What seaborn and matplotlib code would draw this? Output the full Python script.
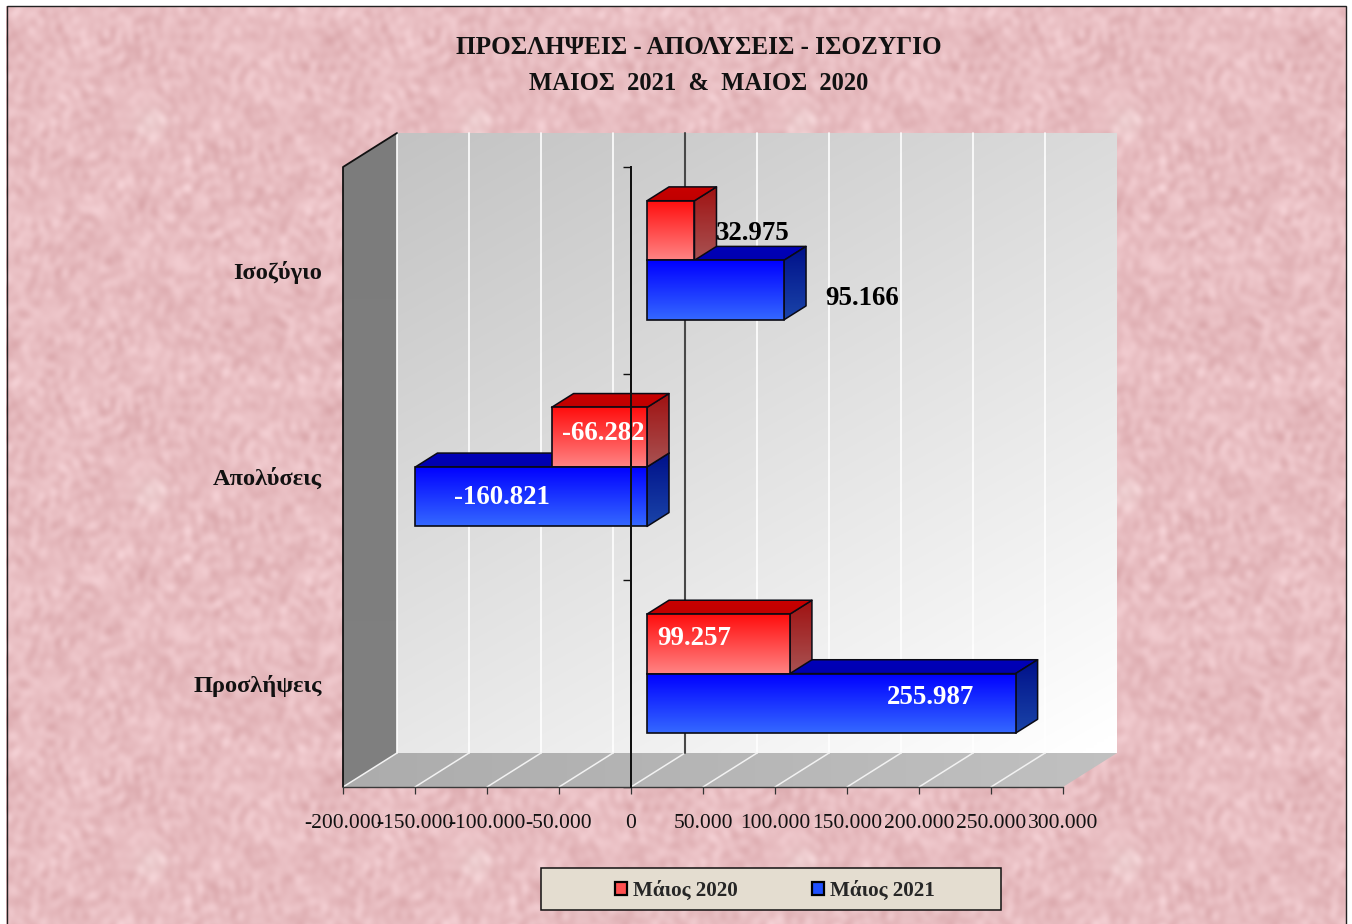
import numpy as np
import pandas as pd
import matplotlib
matplotlib.use("Agg")
import matplotlib.pyplot as plt
import seaborn as sns
from matplotlib.patches import Polygon, Rectangle, Patch
from matplotlib.transforms import IdentityTransform, Affine2D

# ---------- data ----------
categories = ["Ισοζύγιο", "Απολύσεις", "Προσλήψεις"]
series_names = ["Μάιος 2020", "Μάιος 2021"]
values_2020 = [32975, -66282, 99257]
values_2021 = [95166, -160821, 255987]
x_ticks = [-200000, -150000, -100000, -50000, 0, 50000, 100000, 150000, 200000, 250000, 300000]
title_lines = ["ΠΡΟΣΛΗΨΕΙΣ - ΑΠΟΛΥΣΕΙΣ - ΙΣΟΖΥΓΙΟ", "ΜΑΙΟΣ  2021  &  ΜΑΙΟΣ  2020"]

# ---------- label styling (pixel offset of label centre from bar end / bar middle) ----------
label_style = {
    (0, 0): (58, -3, "black"), (0, 1): (78, -8, "black"),
    (1, 0): (52, 4, "white"), (1, 1): (87, -1, "white"),
    (2, 0): (-96, 5, "white"), (2, 1): (-85, 6, "white"),
}

W, H = 1352, 924
DEPTH = np.array([54.0, 34.0])
BAR_D0, BAR_D1 = 16 / 54, 38 / 54

sns.set_style("white")
plt.rcParams["font.family"] = ["Liberation Serif", "DejaVu Serif"]

fig = plt.figure(figsize=(W / 100, H / 100), dpi=100, facecolor="white")


# ---------- paper texture background (deterministic tile of sinusoids) ----------
def paper_texture():
    tw, th = 325, 370
    yy, xx = np.mgrid[0:th, 0:tw]
    field = np.zeros((th, tw))
    for a in range(-30, 31):
        for b in range(0, 31):
            r = np.hypot(a, b)
            if r < 2 or r > 32:
                continue
            h = np.sin(a * 12.9898 + b * 78.233) * 43758.5453
            ph = 2 * np.pi * (h - np.floor(h))
            field += np.sin(2 * np.pi * (a * xx / tw + b * yy / th) + ph) / (1 + r / 5)
    field /= field.std()
    blob = np.exp(-(((xx - 150) / 16.0) ** 2 + ((yy - 122) / 16.0) ** 2))
    base = np.array([232.0, 189.0, 193.0])
    rgb = base[None, None, :] + field[..., None] * np.array([3.5, 5.5, 5.5])
    rgb = rgb + blob[..., None] * np.array([4.0, 14.0, 12.0])
    rgb = np.tile(rgb, (H // th + 1, W // tw + 1, 1))[:H, :W]
    rgb = np.clip(rgb, 0, 255) / 255
    rgb[:6, :] = 1
    rgb[:, :6] = 1
    rgb[:, 1346:] = 1
    return rgb


fig.figimage(paper_texture(), 0, 0, origin="upper", zorder=-2)
fig.add_artist(Rectangle((6.5 / W, -0.01), (1339) / W, 1.01 - 6.5 / H, transform=fig.transFigure,
                         fill=False, edgecolor="#222222", linewidth=1.0, zorder=-1))

# ---------- main axes: front plane of the 3-D box ----------
ax = fig.add_axes([343 / W, 1 - 787 / H, 720 / W, 620 / H])
ax.set_zorder(2)
ax.patch.set_visible(False)

df = pd.DataFrame({
    "category": categories * 2,
    "series": [series_names[0]] * 3 + [series_names[1]] * 3,
    "value": values_2020 + values_2021,
})
sns.barplot(data=df, y="category", x="value", hue="series", order=categories, hue_order=series_names,
            palette=["#ff5050", "#1f50ff"], width=0.576, gap=0, saturation=1, orient="h",
            errorbar=None, legend=False, ax=ax)
ax.set(xlabel="", ylabel="")
ax.set_xlim(x_ticks[0], x_ticks[-1])
ax.set_ylim(2.5, -0.5)
ax.autoscale(False)

IDENT = IdentityTransform()


def proj(x, y, d=0.0):
    return ax.transData.transform((x, y)) + d * DEPTH


def grad_image(verts, img, zorder):
    v = np.array(verts)
    x0, x1 = v[:, 0].min(), v[:, 0].max()
    y0, y1 = v[:, 1].min(), v[:, 1].max()
    im = ax.imshow(img, extent=(x0, x1, y0, y1), origin="upper", aspect="auto",
                   interpolation="bilinear", zorder=zorder, transform=IDENT)
    im.set_clip_box(fig.bbox)
    im.set_clip_path(Polygon(v, closed=True, transform=IDENT))
    return im


def vgrad(top, bottom, n=64):
    t = np.linspace(0, 1, n)[:, None, None]
    a, b = np.array(matplotlib.colors.to_rgb(top)), np.array(matplotlib.colors.to_rgb(bottom))
    return a[None, None, :] * (1 - t) + b[None, None, :] * t


def face(verts, top, bottom, zorder, lw=1.1, edge="#0a0a14"):
    grad_image(verts, vgrad(top, bottom), zorder)
    ax.add_patch(Polygon(verts, closed=True, fill=False, edgecolor=edge, linewidth=lw,
                         transform=IDENT, clip_on=False, zorder=zorder + 0.01, joinstyle="round"))


# ---------- walls and floor ----------
xa, xb = x_ticks[0], x_ticks[-1]
ya, yb = -0.5, 2.5
# back wall
u, v = np.meshgrid(np.linspace(0, 1, 200), np.linspace(0, 1, 200))
shade = np.clip(0.765 + 0.235 * (0.4 * u + 0.62 * v), 0, 1)
wall_img = np.dstack([shade] * 3)
wall = [proj(xa, ya, 1), proj(xb, ya, 1), proj(xb, yb, 1), proj(xa, yb, 1)]
grad_image(wall, wall_img, 0.5)
# left wall
left = [proj(xa, ya, 0), proj(xa, ya, 1), proj(xa, yb, 1), proj(xa, yb, 0)]
grad_image(left, vgrad("#7c7c7c", "#808080"), 0.6)
ax.plot(*zip(left[3], left[0], left[1]), color="#111111", lw=1.3, transform=IDENT, clip_on=False, zorder=2.4)
# floor
floor = [proj(xa, yb, 0), proj(xa, yb, 1), proj(xb, yb, 1), proj(xb, yb, 0)]
fu = np.linspace(0, 1, 128)[None, :]
floor_img = np.dstack([0.675 + 0.08 * fu] * 3)
grad_image(floor, floor_img, 0.6)
# grid lines on wall and floor
for t in x_ticks[:-1]:
    p0, p1 = proj(t, ya, 1), proj(t, yb, 1)
    if t == 0:
        ax.plot(*zip(p0, p1), color="#484848", lw=1.5, transform=IDENT, clip_on=False, zorder=0.8)
    else:
        ax.plot(*zip(p0, p1), color="#ffffff", lw=1.3, alpha=0.9, transform=IDENT, clip_on=False, zorder=0.7)
for t in x_ticks[:-1]:
    p0, p1 = proj(t, yb, 0), proj(t, yb, 1)
    ax.plot(*zip(p0, p1), color="#f2f2f2", lw=1.1, transform=IDENT, clip_on=False, zorder=0.7)

# ---------- bars ----------
shift_front = Affine2D().translate(*(BAR_D0 * DEPTH))
styles = [
    dict(front=("#ff0d0d", "#ff8484"), side=("#a01212", "#a85252"), top=("#c80000", "#c00000"), z=(3.3, 3.25, 3.4)),
    dict(front=("#0000ff", "#3468ff"), side=("#00108a", "#1a44a8"), top=("#0000b8", "#0000b0"), z=(3.0, 3.05, 3.5)),
]
for s_i, (container, st) in enumerate(zip(ax.containers, styles)):
    for bar in container:
        x0 = min(bar.get_x(), bar.get_x() + bar.get_width())
        x1 = max(bar.get_x(), bar.get_x() + bar.get_width())
        y0 = min(bar.get_y(), bar.get_y() + bar.get_height())
        y1 = max(bar.get_y(), bar.get_y() + bar.get_height())
        ztop, zside, zfront = st["z"]
        top = [proj(x0, y0, BAR_D0), proj(x1, y0, BAR_D0), proj(x1, y0, BAR_D1), proj(x0, y0, BAR_D1)]
        side = [proj(x1, y0, BAR_D0), proj(x1, y1, BAR_D0), proj(x1, y1, BAR_D1), proj(x1, y0, BAR_D1)]
        front = [proj(x0, y0, BAR_D0), proj(x1, y0, BAR_D0), proj(x1, y1, BAR_D0), proj(x0, y1, BAR_D0)]
        face(top, *st["top"], ztop)
        face(side, *st["side"], zside)
        grad_image(front, vgrad(*st["front"]), zfront)
        bar.set_facecolor("none")
        bar.set_edgecolor("#0a0a14")
        bar.set_linewidth(1.2)
        bar.set_transform(ax.transData + shift_front)
        bar.set_clip_on(False)
        bar.set_zorder(zfront + 0.01)

        end = x1 if bar.get_width() > 0 else x0
        c_i = int(round((y0 + y1) / 2 + 0.144 * (1 if s_i == 0 else -1)))
        dx, dy, col = label_style[(c_i, s_i)]
        px, py = proj(end, (y0 + y1) / 2, BAR_D0)
        ax.text(px + dx, py + dy, f"{int(bar.get_width()):,}".replace(",", "."), color=col,
                fontsize=19.4, fontweight="bold", ha="center", va="center",
                transform=IDENT, zorder=6, clip_on=False)

# ---------- axes furniture ----------
for name in ("top", "right"):
    ax.spines[name].set_visible(False)
ax.spines["bottom"].set_color("#3a3a3a")
ax.spines["bottom"].set_linewidth(1.0)
ax.spines["bottom"].set_zorder(2.4)
ax.spines["left"].set_position(("data", 0))
ax.spines["left"].set_color("#111111")
ax.spines["left"].set_linewidth(1.4)
ax.spines["left"].set_zorder(5)
ax.plot(*zip(proj(0, ya), proj(0, yb)), color="#111111", lw=1.4, transform=IDENT, clip_on=False, zorder=6.5)
ax.set_xticks(x_ticks, [f"{t:,}".replace(",", ".") for t in x_ticks])
ax.set_yticks([-0.5, 0.5, 1.5, 2.5], ["", "", "", ""])
ax.tick_params(axis="x", length=5, width=0.9, color="#333333", labelsize=15.5, pad=14.5, labelcolor="#111111", bottom=True)
ax.tick_params(axis="y", length=5.5, width=1.0, color="#111111", left=True)

for i, cat in enumerate(categories):
    px, py = ax.transData.transform((xa, i))
    ax.text(px - 21, py - 2, cat, fontsize=17.6, fontweight="bold", ha="right", va="center",
            color="#111111", transform=IDENT, clip_on=False)

# ---------- title ----------
for line, ypx, size in zip(title_lines, (48, 83), (18.05, 17.7)):
    fig.text(699 / W, 1 - ypx / H, line, fontsize=size, fontweight="bold", ha="center", va="center",
             color="#111111")

# ---------- legend ----------
fig.add_artist(Rectangle((541 / W, 1 - 910 / H), 460 / W, 42 / H, transform=fig.transFigure,
                         facecolor="#e4ddd0", edgecolor="#111111", linewidth=1.1, zorder=4))
handles = [Patch(facecolor="#ff5050", edgecolor="black", linewidth=1.6),
           Patch(facecolor="#1f50ff", edgecolor="black", linewidth=1.6)]
leg = fig.legend(handles, series_names, ncols=2, loc="center", bbox_to_anchor=(775 / W, 1 - 891 / H),
                 frameon=False, handlelength=0.56, handleheight=0.56, handletextpad=0.3,
                 columnspacing=3.5, prop={"size": 15.2, "weight": "bold"})
leg.set_zorder(5)

fig.savefig("out.png", dpi=100)
